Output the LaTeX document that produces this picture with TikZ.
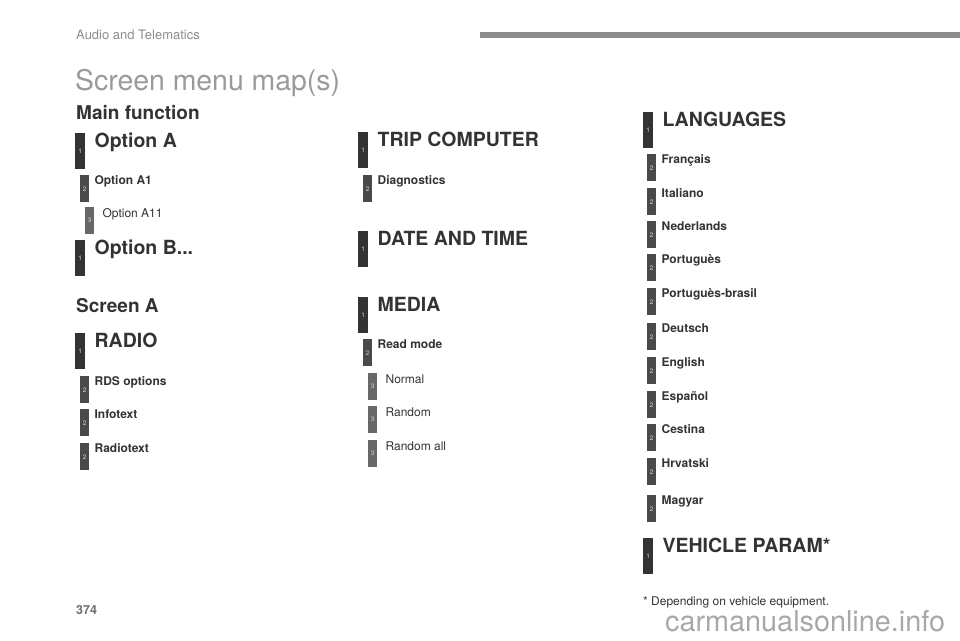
\documentclass[tikz,border=0pt]{standalone}
\usepackage{fontspec}
\setmainfont{TeX Gyre Heros}
\usetikzlibrary{calc}
\definecolor{ink}{HTML}{333333}
\definecolor{barA}{HTML}{333333}
\definecolor{barB}{HTML}{4A4A4A}
\definecolor{barC}{HTML}{686868}
\definecolor{digit}{HTML}{D8D8D8}
\definecolor{pale}{HTML}{8C8C8C}
\definecolor{title}{HTML}{9A9A9A}
\definecolor{mark}{HTML}{A8A8A8}
\newcommand\fs[1]{\fontsize{#1}{#1}\selectfont}
\tikzset{
  barbase/.style={anchor=north west, inner sep=0pt, text=digit, font=\fs{6.5}},
  bar1/.style={barbase, fill=barA, minimum width=10pt, minimum height=36pt},
  bar2/.style={barbase, fill=barB, minimum width=9pt, minimum height=27pt},
  bar3/.style={barbase, fill=barC, minimum width=9pt, minimum height=27pt},
  lab1/.style={anchor=base west, inner sep=0pt, text=ink, font=\fs{19.5}\bfseries},
  lab2/.style={anchor=base west, inner sep=0pt, text=ink, font=\fs{12}\bfseries},
  lab3/.style={anchor=base west, inner sep=0pt, text=ink, font=\fs{12}},
  section/.style={anchor=base west, inner sep=0pt, text=ink, font=\fs{19}\bfseries},
}
% #1 name, #2 level, #3 bar x, #4 bar top y, #5 text
\newcommand\mitem[5]{%
  \node[bar#2] (#1b) at (#3,#4) {#2};
  \ifcase#2\or
    \node[lab1] (#1) at ($(#1b.north east)+(9,14.5)$) {#5};
  \or
    \node[lab2] (#1) at ($(#1b.north east)+(5,9.5)$) {#5};
  \or
    \node[lab3] (#1) at ($(#1b.north east)+(8,10)$) {#5};
  \fi}
\begin{document}
\begin{tikzpicture}[x=1pt,y=-1pt]
\useasboundingbox (0,0) rectangle (960,640);
% header
\node[anchor=base west, inner sep=0pt, text=pale, font=\fs{13}] (hdr) at (76,39) {Audio and Telematics};
\fill[pale] (480,32) rectangle (960,38);
\node[anchor=base west, inner sep=0pt, text=title, font=\fs{28.4}] (ttl) at (75,90) {Screen menu map(s)};
\node[section] (mainf) at (76,119) {Main function};
\node[section] (scrA) at (76,312) {Screen A};
% left column
\mitem{optA}{1}{75}{133}{Option A}
\mitem{optAone}{2}{80}{175}{Option A1}
\mitem{optAoneone}{3}{85}{207}{Option A11}
\mitem{optB}{1}{75}{240}{Option B...}
\mitem{radio}{1}{75}{333}{RADIO}
\mitem{rds}{2}{80}{376}{RDS options}
\mitem{info}{2}{80}{409}{Infotext}
\mitem{rtext}{2}{80}{443}{Radiotext}
% middle column
\mitem{trip}{1}{358}{132}{TRIP COMPUTER}
\mitem{diag}{2}{363}{175}{Diagnostics}
\mitem{date}{1}{358}{231}{DATE AND TIME}
\mitem{media}{1}{358}{297}{MEDIA}
\mitem{read}{2}{363}{339}{Read mode}
\mitem{normal}{3}{368}{373}{Normal}
\mitem{random}{3}{368}{406}{Random}
\mitem{randall}{3}{368}{440}{Random all}
% right column
\mitem{lang}{1}{643}{112}{LANGUAGES}
\mitem{fr}{2}{647}{154}{Français}
\mitem{it}{2}{647}{188}{Italiano}
\mitem{nl}{2}{647}{221}{Nederlands}
\mitem{pt}{2}{647}{254}{Portuguès}
\mitem{ptbr}{2}{647}{288}{Portuguès-brasil}
\mitem{de}{2}{647}{323}{Deutsch}
\mitem{en}{2}{647}{357}{English}
\mitem{es}{2}{647}{391}{Español}
\mitem{cs}{2}{647}{424}{Cestina}
\mitem{hr}{2}{647}{458}{Hrvatski}
\mitem{hu}{2}{647}{495}{Magyar}
\mitem{veh}{1}{643}{538}{VEHICLE PARAM*}
% footer
\node[anchor=base west, inner sep=0pt, text=ink, font=\fs{12}] (foot) at (643,605.5) {* Depending on vehicle equipment.};
\node[anchor=base west, inner sep=0pt, text=mark, font=\fs{28.8}] (wm) at (665,631) {carmanualsonline.info};
\node[anchor=base west, inner sep=0pt, text=pale!80!black, font=\fs{12.5}\bfseries] (page) at (76,614) {374};
\end{tikzpicture}
\end{document}
